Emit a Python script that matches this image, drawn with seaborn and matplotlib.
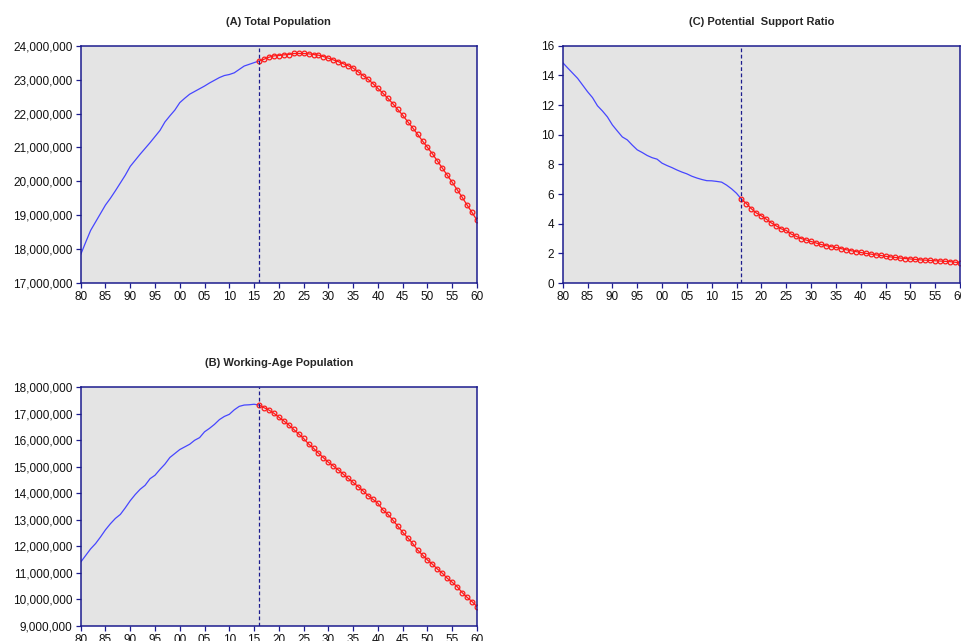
import numpy as np
import pandas as pd
import matplotlib
matplotlib.use("Agg")
import matplotlib.pyplot as plt
import seaborn as sns
from matplotlib.ticker import FuncFormatter, MultipleLocator

sns.set_style("white")
plt.rcParams['font.family'] = ['Liberation Sans', 'DejaVu Sans']

# ---------------- data ----------------
years_hist = list(range(1980, 2017))   # observed (blue)
years_proj = list(range(2016, 2061))   # projected (red circles)

total_hist = [17.84, 18.20, 18.55, 18.80, 19.05, 19.30, 19.50, 19.72, 19.95, 20.18,
              20.44, 20.62, 20.80, 20.97, 21.14, 21.32, 21.50, 21.75, 21.93, 22.10,
              22.32, 22.45, 22.57, 22.65, 22.73, 22.81, 22.90, 22.98, 23.06, 23.12,
              23.15, 23.20, 23.30, 23.40, 23.45, 23.50, 23.55]
total_proj = [23.55, 23.60, 23.66, 23.70, 23.71, 23.73, 23.74, 23.77, 23.77, 23.77,
              23.76, 23.74, 23.72, 23.68, 23.63, 23.58, 23.53, 23.47, 23.41, 23.34,
              23.23, 23.12, 23.01, 22.88, 22.74, 22.60, 22.45, 22.29, 22.12, 21.95,
              21.76, 21.58, 21.39, 21.19, 21.00, 20.81, 20.60, 20.39, 20.18, 19.97,
              19.75, 19.53, 19.30, 19.08, 18.85, 18.65][:45]

work_hist = [11.40, 11.65, 11.90, 12.10, 12.35, 12.62, 12.85, 13.05, 13.20, 13.45,
             13.72, 13.95, 14.15, 14.30, 14.55, 14.68, 14.90, 15.10, 15.35, 15.50,
             15.65, 15.75, 15.85, 16.00, 16.10, 16.32, 16.45, 16.60, 16.78, 16.90,
             16.98, 17.15, 17.28, 17.33, 17.34, 17.36, 17.33]
work_proj = [17.33, 17.23, 17.14, 17.02, 16.87, 16.73, 16.58, 16.41, 16.24, 16.07,
             15.86, 15.70, 15.51, 15.34, 15.17, 15.03, 14.88, 14.72, 14.56, 14.41,
             14.25, 14.09, 13.91, 13.77, 13.62, 13.37, 13.21, 12.99, 12.76, 12.53,
             12.32, 12.11, 11.86, 11.67, 11.48, 11.32, 11.14, 10.98, 10.79, 10.64,
             10.47, 10.25, 10.07, 9.91, 9.72]

psr_hist = [14.86, 14.50, 14.15, 13.80, 13.35, 12.90, 12.50, 11.95, 11.60, 11.20,
            10.66, 10.25, 9.85, 9.65, 9.30, 8.98, 8.80, 8.60, 8.45, 8.35,
            8.08, 7.92, 7.78, 7.62, 7.48, 7.36, 7.20, 7.08, 6.98, 6.90,
            6.89, 6.85, 6.80, 6.60, 6.35, 6.05, 5.65]
psr_proj = [5.65, 5.35, 5.00, 4.72, 4.53, 4.30, 4.05, 3.85, 3.65, 3.55,
            3.30, 3.15, 3.00, 2.90, 2.80, 2.70, 2.60, 2.52, 2.45, 2.40,
            2.32, 2.25, 2.18, 2.12, 2.06, 2.00, 1.95, 1.90, 1.86, 1.80,
            1.76, 1.72, 1.68, 1.65, 1.62, 1.59, 1.56, 1.54, 1.52, 1.50,
            1.48, 1.46, 1.44, 1.40, 1.35]

break_year = 2016
xtick_years = list(range(1980, 2061, 5))
xtick_labels = ['80', '85', '90', '95', '00', '05', '10', '15', '20', '25',
                '30', '35', '40', '45', '50', '55', '60']

titles = ['(A) Total Population', '(C) Potential  Support Ratio', '(B) Working-Age Population']

# ---------------- styling ----------------
NAVY = '#1c1c8e'
BLUE = '#4646ff'
RED = '#ff1a1a'
BG = '#e4e4e4'

fig = plt.figure(figsize=(9.61, 6.41), dpi=100)
fig.patch.set_facecolor('white')

W, H = 961, 641
def px_axes(l, t, r, b):
    return fig.add_axes([l / W, (H - b) / H, (r - l) / W, (b - t) / H])

axA = px_axes(80.7, 45.7, 477, 283)
axC = px_axes(562.7, 45.7, 960, 283)
axB = px_axes(80.7, 387.3, 477, 625.7)

def draw(ax, hist, proj, scale, title, ylim, ystep, fmt):
    dh = pd.DataFrame({'year': years_hist, 'value': np.array(hist) * scale})
    dp = pd.DataFrame({'year': years_proj, 'value': np.array(proj) * scale})
    sns.lineplot(data=dh, x='year', y='value', ax=ax, color=BLUE, linewidth=0.9)
    sns.lineplot(data=dp, x='year', y='value', ax=ax, color=RED, linewidth=0.9,
                 marker='o', markersize=3.4, markerfacecolor='none',
                 markeredgecolor=RED, markeredgewidth=0.9)
    ax.axvline(break_year, color=NAVY, linestyle=(0, (3, 2)), linewidth=0.9)
    ax.set_facecolor(BG)
    ax.set_xlim(1980, 2060)
    ax.set_ylim(*ylim)
    ax.set_xticks(xtick_years)
    ax.set_xticklabels(xtick_labels)
    ax.yaxis.set_major_locator(MultipleLocator(ystep))
    ax.yaxis.set_major_formatter(FuncFormatter(fmt))
    ax.set_xlabel('')
    ax.set_ylabel('')
    ax.set_title(title, fontsize=8, fontweight='bold', pad=15)
    for s in ax.spines.values():
        s.set_color(NAVY)
        s.set_linewidth(1.1)
    ax.tick_params(axis='both', which='major', direction='out', length=3.5,
                   width=0.9, color=NAVY, labelsize=8.5, pad=2.5,
                   labelcolor='#111111', left=True, bottom=True)
    ax.grid(False)

comma = lambda v, p: f'{v:,.0f}'
plain = lambda v, p: f'{v:.0f}'

draw(axA, total_hist, total_proj, 1e6, titles[0], (17e6, 24e6), 1e6, comma)
draw(axC, psr_hist, psr_proj, 1.0, titles[1], (0, 16), 2, plain)
draw(axB, work_hist, work_proj, 1e6, titles[2], (9e6, 18e6), 1e6, comma)

fig.savefig('out.png', dpi=100)
